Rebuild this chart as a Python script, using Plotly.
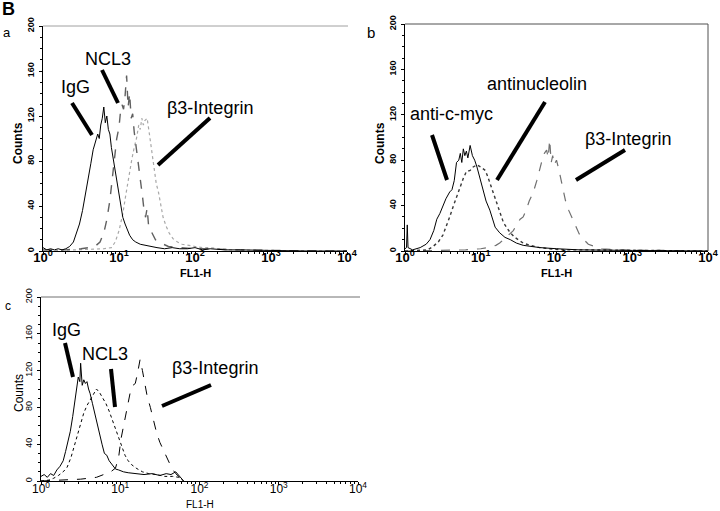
import plotly.graph_objects as go

# ---------------- DATA (log10 FL1-H, counts) ----------------
a_igg_logx = [0.00,0.05,0.10,0.15,0.20,0.25,0.30,0.35,0.40,0.44,0.48,0.52,0.56,0.60,0.63,0.66,0.69,0.72,0.74,0.76,0.78,0.80,0.82,0.84,0.86,0.88,0.90,0.93,0.96,0.99,1.02,1.05,1.08,1.11,1.14,1.18,1.22,1.28,1.34,1.40,1.50,1.60,1.70,1.80,1.90,2.00,2.10,2.20,2.40,2.60,2.80,3.00,3.50,4.00]
a_igg_cnt  = [3,1,2,1,2,1,2,4,8,16,24,36,50,64,78,90,98,104,100,112,118,128,114,120,108,104,92,80,64,54,40,30,24,18,14,10,8,6,5,4,3,2,3,2,2,3,1,2,1,1,0.5,0.5,0,0]

a_ncl3_logx = [0.00,0.30,0.50,0.60,0.70,0.75,0.80,0.84,0.88,0.91,0.94,0.97,1.00,1.02,1.04,1.06,1.08,1.10,1.12,1.14,1.16,1.18,1.20,1.22,1.25,1.28,1.31,1.33,1.35,1.37,1.39,1.42,1.45,1.48,1.52,1.58,1.65,1.80,2.00,2.20,2.50,3.00,4.00]
a_ncl3_cnt  = [1,1,2,3,5,8,16,28,45,62,82,100,110,124,130,126,138,156,128,140,118,122,106,96,81,62,48,36,30,38,22,18,14,10,8,6,4,3,2,2,1,0.5,0]

a_b3_logx = [0.00,0.50,0.80,0.90,0.95,1.00,1.05,1.09,1.13,1.17,1.20,1.23,1.26,1.28,1.30,1.32,1.34,1.37,1.40,1.43,1.46,1.49,1.52,1.55,1.58,1.62,1.66,1.71,1.77,1.83,1.90,2.00,2.10,2.20,2.30,2.50,3.00,4.00]
a_b3_cnt  = [0,1,2,3,8,18,33,50,68,82,92,100,112,108,118,112,116,118,104,88,76,60,52,40,30,22,16,11,8,6,5,4,3,3,2,1,0.5,0]

b_myc_logx = [0.00,0.02,0.03,0.04,0.10,0.20,0.28,0.33,0.38,0.42,0.46,0.50,0.54,0.59,0.62,0.65,0.68,0.71,0.73,0.75,0.77,0.79,0.81,0.83,0.86,0.89,0.92,0.95,0.99,1.03,1.07,1.12,1.16,1.19,1.25,1.32,1.39,1.47,1.56,1.66,1.78,2.00,2.30,3.00,4.00]
b_myc_cnt  = [2,3,23,3,1,3,6,10,18,28,33,40,46,52,54,62,78,80,86,78,90,84,88,82,93,84,80,74,64,54,44,36,26,21,16,12,10,7,5,4,3,2,1,0.5,0]

b_nuc_logx = [0.00,0.30,0.37,0.44,0.50,0.55,0.59,0.64,0.68,0.73,0.77,0.81,0.86,0.90,0.95,1.00,1.06,1.09,1.12,1.16,1.21,1.26,1.30,1.35,1.39,1.45,1.50,1.56,1.65,1.78,1.90,2.10,2.40,3.00,4.00]
b_nuc_cnt  = [0,1,4,8,14,22,30,40,48,56,64,70,71,74,76,74,71,66,60,52,42,32,25,20,16,12,10,7,5,3,2,1,1,0.5,0]

b_b3_logx = [0.00,0.80,1.00,1.10,1.20,1.25,1.30,1.35,1.40,1.43,1.48,1.52,1.56,1.60,1.64,1.69,1.74,1.78,1.81,1.84,1.87,1.89,1.91,1.93,1.95,1.97,2.00,2.03,2.06,2.09,2.12,2.16,2.20,2.25,2.30,2.36,2.42,2.50,2.60,2.80,3.00,3.40,4.00]
b_b3_cnt  = [0,1,2,3,5,7,10,13,16,18,24,28,30,36,44,51,62,74,80,86,89,82,98,78,84,76,80,72,62,52,44,36,30,22,15,10,6,4,2,1,1,0.5,0]

c_igg_logx = [0.00,0.04,0.08,0.12,0.16,0.20,0.24,0.28,0.31,0.34,0.37,0.40,0.43,0.45,0.47,0.49,0.50,0.52,0.54,0.56,0.58,0.60,0.62,0.65,0.68,0.71,0.74,0.77,0.80,0.83,0.86,0.90,0.94,0.98,1.04,1.10,1.20,1.30,1.40,1.50,1.58,1.64,1.70,1.74,1.78,1.80]
c_igg_cnt  = [5,7,4,8,6,12,16,22,32,42,54,70,88,100,113,108,128,104,110,106,108,100,95,84,73,60,48,40,30,28,22,18,13,12,10,9,8,7,8,6,8,7,10,6,3,0]

c_ncl3_logx = [0.00,0.10,0.16,0.22,0.28,0.33,0.38,0.42,0.46,0.50,0.54,0.58,0.62,0.66,0.70,0.74,0.78,0.82,0.86,0.90,0.94,0.98,1.02,1.06,1.10,1.14,1.20,1.28,1.36,1.46,1.56,1.66,1.74,1.80]
c_ncl3_cnt  = [0,1,3,6,10,15,26,38,50,64,74,82,88,94,100,96,90,84,76,66,56,46,36,28,22,18,14,10,8,7,5,5,4,0]

c_b3_logx = [0.00,0.30,0.50,0.70,0.80,0.88,0.94,0.98,1.01,1.04,1.07,1.10,1.13,1.16,1.19,1.22,1.25,1.28,1.31,1.34,1.38,1.42,1.46,1.50,1.55,1.60,1.65,1.70,1.75,1.80]
c_b3_cnt  = [0,1,2,4,7,10,14,26,46,60,72,86,98,104,106,118,132,120,104,92,80,66,52,42,32,22,14,8,4,0]

x_tick_vals = [1, 10, 100, 1000, 10000]
x_tick_text = ["10<sup>0</sup>", "10<sup>1</sup>", "10<sup>2</sup>", "10<sup>3</sup>", "10<sup>4</sup>"]
y_tick_vals = [0, 40, 80, 120, 160, 200]

# ---------------- LAYOUT HELPERS ----------------
W, H = 720, 511
def px(x): return x / W
def py(y): return 1 - y / H

FONT = "Arial, Liberation Sans, sans-serif"

fig = go.Figure()

def tr(logx, cnt, axis, color, width, dash):
    fig.add_trace(go.Scatter(
        x=[10 ** v for v in logx], y=cnt, mode="lines",
        line=dict(color=color, width=width, dash=dash),
        xaxis="x" + axis, yaxis="y" + axis, showlegend=False, hoverinfo="skip"))

# panel a
tr(a_b3_logx, a_b3_cnt, "", "#a8a8a8", 1.2, "dot")
tr(a_ncl3_logx, a_ncl3_cnt, "", "#606060", 1.4, "dash")
tr(a_igg_logx, a_igg_cnt, "", "#000000", 1.0, "solid")
# panel b
tr(b_b3_logx, b_b3_cnt, "2", "#707070", 1.2, "dash")
tr(b_nuc_logx, b_nuc_cnt, "2", "#383838", 1.4, "dot")
tr(b_myc_logx, b_myc_cnt, "2", "#000000", 1.0, "solid")
# panel c
tr(c_b3_logx, c_b3_cnt, "3", "#000000", 1.0, "dash")
tr(c_ncl3_logx, c_ncl3_cnt, "3", "#000000", 1.0, "dot")
tr(c_igg_logx, c_igg_cnt, "3", "#000000", 1.0, "solid")

minor_x = [m * 10 ** d for d in range(4) for m in range(2, 10)]

def xaxis(dom, bold, size, standoff):
    return dict(
        domain=dom, type="log", range=[0, 4], tickvals=x_tick_vals, ticktext=x_tick_text,
        showline=True, linecolor="black", linewidth=1, automargin=False,
        ticks="outside", ticklen=3, tickcolor="black", ticklabelstandoff=standoff,
        minor=dict(tickvals=minor_x, ticks="outside", ticklen=2, tickcolor="black"),
        tickfont=dict(family=FONT, size=size, color="black", weight="bold" if bold else "normal"),
        showgrid=False, zeroline=False, fixedrange=True)

def yaxis(dom, anchor, bold):
    return dict(
        domain=dom, range=[0, 200], tickvals=y_tick_vals, anchor=anchor,
        showline=True, linecolor="black", linewidth=1, automargin=False,
        ticks="outside", ticklen=3, tickcolor="black", tickangle=-90, ticklabelstandoff=1,
        minor=dict(dtick=10, ticks="outside", ticklen=2, tickcolor="black"),
        tickfont=dict(family=FONT, size=9, color="black", weight="bold" if bold else "normal"),
        showgrid=False, zeroline=False, fixedrange=True)

fig.update_layout(
    width=W, height=H, margin=dict(l=0, r=0, t=0, b=0, autoexpand=False),
    paper_bgcolor="white", plot_bgcolor="white",
    xaxis=dict(xaxis([px(43), px(347)], True, 13, -9), anchor="y"),
    yaxis=yaxis([py(251), py(26)], "x", True),
    xaxis2=dict(xaxis([px(405), px(708)], True, 13, -9), anchor="y2"),
    yaxis2=yaxis([py(251), py(24)], "x2", True),
    xaxis3=dict(xaxis([px(41), px(358)], False, 12, -6), anchor="y3"),
    yaxis3=yaxis([py(481), py(297)], "x3", False),
)

shapes = []
# frame lines
shapes.append(dict(type="line", xref="paper", yref="paper", x0=px(43), x1=px(348), y0=py(26), y1=py(26),
                   line=dict(color="#a0a0a0", width=1)))
shapes.append(dict(type="line", xref="paper", yref="paper", x0=px(405), x1=px(708), y0=py(24), y1=py(24),
                   line=dict(color="#505050", width=1)))
shapes.append(dict(type="line", xref="paper", yref="paper", x0=px(708), x1=px(708), y0=py(24), y1=py(251),
                   line=dict(color="#505050", width=1)))
shapes.append(dict(type="line", xref="paper", yref="paper", x0=px(41), x1=px(360), y0=py(297), y1=py(297),
                   line=dict(color="#707070", width=1)))

# callout lines (pixel positions)
callouts = [
    (72, 103, 92, 135), (102, 70, 118, 103), (210, 118, 158, 165),
    (432, 135, 447, 180), (545, 102, 497, 180), (625, 150, 576, 180),
    (65, 343, 73, 377), (111, 369, 115, 407), (211, 385, 162, 406),
]
for x0, y0, x1, y1 in callouts:
    shapes.append(dict(type="line", xref="paper", yref="paper", x0=px(x0), y0=py(y0), x1=px(x1), y1=py(y1),
                       line=dict(color="black", width=4)))
fig.update_layout(shapes=shapes)

ann = []
def txt(x, y, s, size=18, bold=False, angle=0):
    ann.append(dict(x=px(x), y=py(y), xref="paper", yref="paper", text=s, showarrow=False,
                    xanchor="center", yanchor="middle", textangle=angle,
                    font=dict(family=FONT, size=size, color="black", weight="bold" if bold else "normal")))

txt(8, 9, "B", 18, True)
txt(7, 33, "a", 13)
txt(371, 33, "b", 15)
txt(8, 306, "c", 12)

txt(75, 87, "IgG")
txt(108, 59, "NCL3")
txt(210, 108, "β3-Integrin")
txt(451, 114, "anti-c-myc")
txt(537, 84, "antinucleolin")
txt(628, 139, "β3-Integrin")
txt(66, 330, "IgG")
txt(105, 354, "NCL3")
txt(215, 368, "β3-Integrin")

txt(195, 273, "FL1-H", 11, True)
txt(556, 273, "FL1-H", 11, True)
txt(200, 504, "FL1-H", 10)
txt(18, 143, "Counts", 12, True, -90)
txt(380, 143, "Counts", 12, True, -90)
txt(19, 393, "Counts", 12, False, -90)
fig.update_layout(annotations=ann)

fig.write_html("out.html", config={"displayModeBar": False},
               post_script="document.body.style.margin='0';document.body.style.overflow='hidden';")
